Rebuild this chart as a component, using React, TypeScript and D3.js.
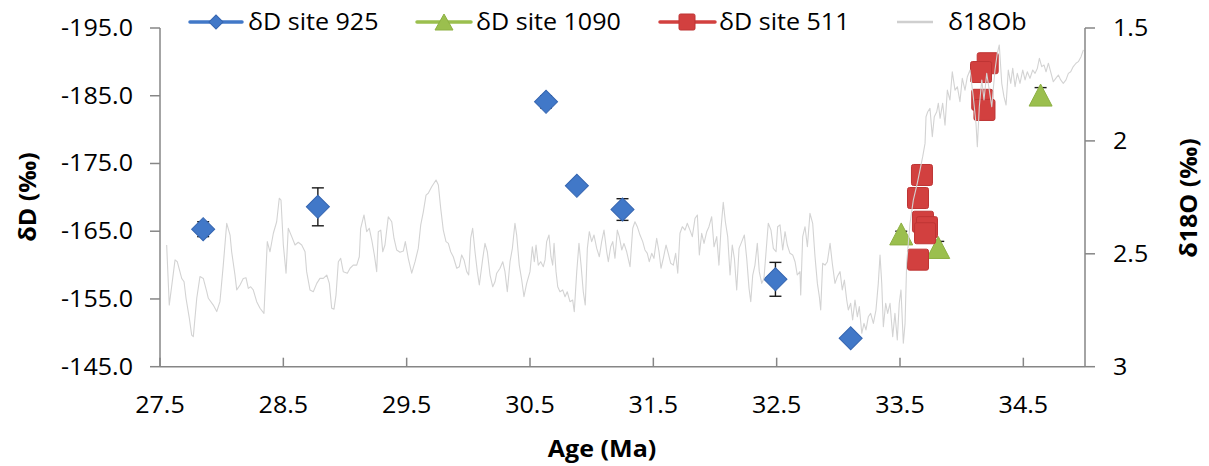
import React from "react";
import * as d3 from "d3";

const W = 1209;
const H = 466;
const FONT = "'Open Sans', 'Noto Sans', sans-serif";
const SX = 1.09;

// Axis ticks
const ageTicks = [27.5, 28.5, 29.5, 30.5, 31.5, 32.5, 33.5, 34.5];
const ageTickLabels = ["27.5", "28.5", "29.5", "30.5", "31.5", "32.5", "33.5", "34.5"];
const dDTicks = [-195, -185, -175, -165, -155, -145];
const dDTickLabels = ["-195.0", "-185.0", "-175.0", "-165.0", "-155.0", "-145.0"];
const o18Ticks = [1.5, 2, 2.5, 3];
const o18TickLabels = ["1.5", "2", "2.5", "3"];

// δD site 925
const site925Age = [27.85, 28.78, 30.63, 30.88, 31.25, 32.49, 33.1];
const site925dD = [-165.3, -168.6, -184.1, -171.7, -168.2, -157.9, -149.2];
const site925Err = [1.1, 2.8, 0.9, 0.3, 1.6, 2.5, 0.6];

// δD site 1090
const site1090Age = [33.51, 33.81, 34.64];
const site1090dD = [-164.6, -162.6, -185.1];
const site1090Err = [0.4, 0.9, 1.1];

// δD site 511
const site511Age = [33.678, 33.646, 33.686, 33.719, 33.703, 33.646, 34.211, 34.157, 34.167, 34.185];
const site511dD = [-173.3, -169.9, -166.4, -165.6, -164.7, -160.8, -189.8, -188.5, -184.4, -182.9];

// δ18Ob benthic record
const o18Age = [
  27.554, 27.575, 27.622, 27.64, 27.676, 27.695, 27.711, 27.738, 27.757, 27.77,
  27.798, 27.824, 27.851, 27.879, 27.892, 27.932, 27.96, 27.986, 28.013, 28.041,
  28.068, 28.081, 28.108, 28.122, 28.149, 28.175, 28.197, 28.216, 28.235, 28.256,
  28.284, 28.311, 28.343, 28.37, 28.392, 28.419, 28.446, 28.467, 28.481, 28.5,
  28.522, 28.54, 28.568, 28.595, 28.621, 28.649, 28.676, 28.689, 28.716, 28.743,
  28.771, 28.797, 28.824, 28.852, 28.873, 28.892, 28.911, 28.927, 28.946, 28.965,
  28.986, 29.019, 29.041, 29.067, 29.095, 29.116, 29.127, 29.154, 29.176, 29.197,
  29.217, 29.238, 29.257, 29.27, 29.29, 29.306, 29.324, 29.351, 29.379, 29.397,
  29.419, 29.446, 29.473, 29.489, 29.513, 29.541, 29.568, 29.594, 29.614, 29.635,
  29.657, 29.675, 29.703, 29.738, 29.757, 29.776, 29.797, 29.819, 29.838, 29.857,
  29.878, 29.906, 29.927, 29.946, 29.965, 29.987, 30.003, 30.019, 30.035, 30.054,
  30.073, 30.089, 30.117, 30.135, 30.154, 30.176, 30.198, 30.216, 30.23, 30.257,
  30.279, 30.297, 30.316, 30.338, 30.357, 30.378, 30.392, 30.413, 30.433, 30.451,
  30.473, 30.5, 30.519, 30.535, 30.549, 30.567, 30.587, 30.608, 30.622, 30.635,
  30.654, 30.67, 30.684, 30.695, 30.711, 30.725, 30.743, 30.765, 30.784, 30.802,
  30.824, 30.846, 30.859, 30.879, 30.897, 30.914, 30.932, 30.948, 30.965, 30.981,
  31.0, 31.019, 31.041, 31.062, 31.081, 31.1, 31.122, 31.135, 31.154, 31.171,
  31.189, 31.208, 31.224, 31.244, 31.262, 31.284, 31.311, 31.333, 31.351, 31.37,
  31.392, 31.414, 31.432, 31.451, 31.467, 31.487, 31.505, 31.527, 31.546, 31.562,
  31.581, 31.603, 31.621, 31.641, 31.662, 31.681, 31.698, 31.716, 31.735, 31.757,
  31.775, 31.797, 31.816, 31.838, 31.857, 31.873, 31.892, 31.911, 31.933, 31.951,
  31.973, 31.992, 32.014, 32.032, 32.049, 32.067, 32.084, 32.103, 32.122, 32.14,
  32.157, 32.176, 32.195, 32.217, 32.238, 32.257, 32.276, 32.29, 32.306, 32.324,
  32.343, 32.359, 32.379, 32.397, 32.414, 32.432, 32.454, 32.473, 32.495, 32.508,
  32.527, 32.549, 32.568, 32.586, 32.608, 32.63, 32.649, 32.667, 32.689, 32.695,
  32.711, 32.73, 32.749, 32.77, 32.792, 32.811, 32.83, 32.846, 32.857, 32.873,
  32.892, 32.911, 32.933, 32.951, 32.973, 32.992, 33.014, 33.032, 33.049, 33.068,
  33.081, 33.1, 33.116, 33.135, 33.154, 33.17, 33.19, 33.208, 33.224, 33.243,
  33.262, 33.284, 33.305, 33.324, 33.338, 33.352, 33.365, 33.384, 33.4, 33.419,
  33.441, 33.459, 33.478, 33.494, 33.508, 33.527, 33.541, 33.554, 33.581, 33.608,
  33.64, 33.662, 33.684, 33.703, 33.711, 33.725, 33.743, 33.762, 33.778, 33.798,
  33.811, 33.825, 33.846, 33.865, 33.884, 33.905, 33.924, 33.946, 33.965, 33.986,
  34.005, 34.027, 34.046, 34.068, 34.094, 34.116, 34.127, 34.143, 34.163, 34.181,
  34.203, 34.224, 34.244, 34.27, 34.289, 34.305, 34.325, 34.343, 34.36, 34.378,
  34.398, 34.414, 34.433, 34.451, 34.473, 34.495, 34.514, 34.532, 34.554, 34.576,
  34.595, 34.614, 34.63, 34.649, 34.668, 34.684, 34.703, 34.725, 34.743, 34.763,
  34.784, 34.803, 34.824, 34.846, 34.865, 34.884, 34.905, 34.927, 34.946, 34.968,
  34.987,
];
const o18Val = [
  2.461, 2.727, 2.527, 2.535, 2.609, 2.624, 2.697, 2.786, 2.86, 2.867,
  2.697, 2.601, 2.609, 2.668, 2.697, 2.727, 2.756, 2.712, 2.55, 2.365,
  2.417, 2.491, 2.594, 2.66, 2.638, 2.609, 2.606, 2.653, 2.646, 2.66,
  2.712, 2.741, 2.764, 2.446, 2.491, 2.409, 2.358, 2.254, 2.262, 2.461,
  2.586, 2.387, 2.424, 2.461, 2.449, 2.461, 2.491, 2.579, 2.66, 2.668,
  2.631, 2.609, 2.609, 2.594, 2.631, 2.741, 2.745, 2.683, 2.535, 2.52,
  2.579, 2.586, 2.564, 2.55, 2.55, 2.513, 2.387, 2.328, 2.402, 2.387,
  2.439, 2.505, 2.579, 2.402, 2.395, 2.491, 2.461, 2.336, 2.358, 2.431,
  2.483, 2.493, 2.488, 2.446, 2.52, 2.586, 2.535, 2.476, 2.372, 2.314,
  2.24, 2.232, 2.203, 2.173, 2.195, 2.299, 2.395, 2.446, 2.454, 2.491,
  2.513, 2.564, 2.557, 2.505, 2.527, 2.579, 2.594, 2.431, 2.387, 2.491,
  2.579, 2.638, 2.52, 2.454, 2.491, 2.594, 2.646, 2.624, 2.586, 2.564,
  2.535, 2.579, 2.668, 2.535, 2.476, 2.365, 2.417, 2.55, 2.616, 2.69,
  2.631, 2.579, 2.469, 2.535, 2.461, 2.55, 2.535, 2.557, 2.527, 2.446,
  2.417, 2.513, 2.55, 2.454, 2.579, 2.646, 2.668, 2.66, 2.69, 2.668,
  2.712, 2.705, 2.756, 2.579, 2.454, 2.55, 2.668, 2.727, 2.476, 2.402,
  2.446, 2.417, 2.476, 2.513, 2.446, 2.395, 2.491, 2.535, 2.469, 2.446,
  2.52, 2.395, 2.424, 2.483, 2.454, 2.491, 2.557, 2.387, 2.358, 2.38,
  2.417, 2.446, 2.483, 2.498, 2.535, 2.498, 2.52, 2.431, 2.491, 2.564,
  2.52, 2.461, 2.498, 2.542, 2.55, 2.498, 2.586, 2.409, 2.38, 2.395,
  2.365, 2.395, 2.424, 2.343, 2.328, 2.505, 2.409, 2.454, 2.402, 2.38,
  2.336, 2.469, 2.424, 2.55, 2.387, 2.272, 2.358, 2.424, 2.594, 2.461,
  2.52, 2.66, 2.476, 2.446, 2.417, 2.52, 2.653, 2.712, 2.594, 2.55,
  2.454, 2.579, 2.631, 2.609, 2.491, 2.365, 2.395, 2.476, 2.491, 2.38,
  2.372, 2.483, 2.402, 2.461, 2.498, 2.505, 2.535, 2.594, 2.579, 2.682,
  2.424, 2.38, 2.469, 2.321, 2.365, 2.513, 2.631, 2.69, 2.749, 2.542,
  2.55, 2.535, 2.454, 2.542, 2.631, 2.601, 2.579, 2.66, 2.616, 2.705,
  2.749, 2.719, 2.793, 2.705, 2.779, 2.734, 2.852, 2.808, 2.837, 2.779,
  2.764, 2.808, 2.749, 2.631, 2.505, 2.631, 2.823, 2.719, 2.764, 2.719,
  2.867, 2.764, 2.882, 2.719, 2.66, 2.896, 2.808, 2.542, 2.365, 2.262,
  2.188, 2.129, 2.07, 2.011, 1.893, 1.871, 1.856, 1.981, 1.893, 1.871,
  1.833, 1.9, 1.833, 1.93, 1.775, 1.819, 1.694, 1.775, 1.76, 1.826,
  1.723, 1.775, 1.716, 1.686, 1.804, 1.922, 2.026, 1.849, 1.73, 1.819,
  1.701, 1.775, 1.849, 1.686, 1.612, 1.575, 1.745, 1.804, 1.841, 1.686,
  1.745, 1.678, 1.76, 1.701, 1.745, 1.686, 1.73, 1.694, 1.723, 1.686,
  1.701, 1.678, 1.634, 1.671, 1.664, 1.694, 1.656, 1.701, 1.738, 1.723,
  1.708, 1.73, 1.745, 1.73, 1.701, 1.694, 1.671, 1.656, 1.649, 1.627,
  1.597,
];

const BLUE = "#4178C8";
const BLUE_EDGE = "#3565B0";
const GREEN = "#9BBF4E";
const GREEN_EDGE = "#8DB043";
const RED = "#D2403F";
const RED_EDGE = "#BE3434";
const GRAY_LINE = "#D3D3D3";
const AXIS = "#868686";

type TProps = {
  x: number;
  y: number;
  rot?: number;
  anchor?: "start" | "middle" | "end";
  size?: number;
  weight?: number | string;
  children: React.ReactNode;
};

function T({ x, y, rot = 0, anchor = "start", size = 23, weight = 400, children }: TProps) {
  return (
    <text
      transform={`translate(${x},${y}) rotate(${rot}) scale(${SX},1)`}
      textAnchor={anchor}
      fontFamily={FONT}
      fontSize={size}
      fontWeight={weight}
      fill="#000"
    >
      {children}
    </text>
  );
}

const diamond = (side: number) => d3.symbol(d3.symbolSquare, side * side)() as string;
const triangle = (w: number, h: number) => {
  const p = d3.path();
  p.moveTo(0, -h / 2);
  p.lineTo(w / 2, h / 2);
  p.lineTo(-w / 2, h / 2);
  p.closePath();
  return p.toString();
};

export default function App() {
  const left = 160;
  const right = 1085;
  const top = 28;
  const bottom = 366.7;

  const x = d3.scaleLinear().domain([27.5, 35]).range([left, right]);
  const yL = d3.scaleLinear().domain([-145, -195]).range([bottom, top]);
  const yR = d3.scaleLinear().domain([3, 1.5]).range([bottom, top]);

  const line = d3
    .line<number>()
    .x((_, i) => x(o18Age[i]))
    .y((v) => yR(v));

  const errBar = (ax: number, v: number, e: number, key: string) => {
    const cx = x(ax);
    const y1 = yL(v - e);
    const y2 = yL(v + e);
    return (
      <g key={key} stroke="#1a1a1a" strokeWidth={1.4}>
        <line x1={cx} x2={cx} y1={y1} y2={y2} />
        <line x1={cx - 6} x2={cx + 6} y1={y1} y2={y1} />
        <line x1={cx - 6} x2={cx + 6} y1={y2} y2={y2} />
      </g>
    );
  };

  const dPath = diamond(16.3);
  const tPath = triangle(23, 22);
  const legendY = 22;

  return (
    <svg
      width={W}
      height={H}
      viewBox={`0 0 ${W} ${H}`}
      style={{ position: "absolute", left: 0, top: 0, background: "#fff" }}
    >
      <rect x={0} y={0} width={W} height={H} fill="#fff" />

      {/* error bars */}
      {site925Age.map((a, i) => errBar(a, site925dD[i], site925Err[i], `e925-${i}`))}
      {site1090Age.map((a, i) => errBar(a, site1090dD[i], site1090Err[i], `e1090-${i}`))}

      {/* site 925 diamonds */}
      {site925Age.map((a, i) => (
        <path
          key={`d${i}`}
          d={dPath}
          transform={`translate(${x(a)},${yL(site925dD[i])}) rotate(45)`}
          fill={BLUE}
          stroke={BLUE_EDGE}
          strokeWidth={1}
        />
      ))}

      {/* site 1090 triangles */}
      {site1090Age.map((a, i) => (
        <path
          key={`t${i}`}
          d={tPath}
          transform={`translate(${x(a)},${yL(site1090dD[i])})`}
          fill={GREEN}
          stroke={GREEN_EDGE}
          strokeWidth={1}
        />
      ))}

      {/* site 511 squares */}
      {site511Age.map((a, i) => (
        <rect
          key={`s${i}`}
          x={x(a) - 10.5}
          y={yL(site511dD[i]) - 10.5}
          width={21}
          height={21}
          rx={2}
          fill={RED}
          stroke={RED_EDGE}
          strokeWidth={1}
        />
      ))}

      {/* δ18Ob line */}
      <path d={line(o18Val) as string} fill="none" stroke={GRAY_LINE} strokeWidth={1.1} strokeLinejoin="round" />

      {/* axes */}
      <g stroke={AXIS} strokeWidth={1.5} fill="none">
        <line x1={left} x2={left} y1={top} y2={bottom} />
        <line x1={right} x2={right} y1={top} y2={bottom} />
        <line x1={left} x2={right} y1={bottom} y2={bottom} />
        {dDTicks.map((t) => (
          <line key={`lt${t}`} x1={left - 10} x2={left} y1={yL(t)} y2={yL(t)} />
        ))}
        {o18Ticks.map((t) => (
          <line key={`rt${t}`} x1={right} x2={right + 10} y1={yR(t)} y2={yR(t)} />
        ))}
        {ageTicks.map((t) => (
          <line key={`bt${t}`} x1={x(t)} x2={x(t)} y1={bottom - 9} y2={bottom} />
        ))}
      </g>

      {/* tick labels */}
      {dDTicks.map((t, i) => (
        <T key={`ll${t}`} x={133} y={yL(t) + 8} anchor="end">
          {dDTickLabels[i]}
        </T>
      ))}
      {o18Ticks.map((t, i) => (
        <T key={`rl${t}`} x={1113} y={yR(t) + 8} anchor="start">
          {o18TickLabels[i]}
        </T>
      ))}
      {ageTicks.map((t, i) => (
        <T key={`bl${t}`} x={x(t)} y={413} anchor="middle">
          {ageTickLabels[i]}
        </T>
      ))}

      {/* axis titles */}
      <T x={602} y={457} anchor="middle" weight={700}>
        Age (Ma)
      </T>
      <T x={36} y={197} rot={-90} anchor="middle" weight={700}>
        δD (‰)
      </T>
      <T x={1197} y={198} rot={-90} anchor="middle" weight={700}>
        δ18O (‰)
      </T>

      {/* legend */}
      <g>
        <line x1={190} x2={242} y1={legendY} y2={legendY} stroke={BLUE} strokeWidth={3.5} strokeLinecap="round" />
        <path d={diamond(10)} transform={`translate(216,${legendY}) rotate(45)`} fill={BLUE} stroke={BLUE_EDGE} />
        <T x={248} y={30}>δD site 925</T>

        <line x1={417} x2={471} y1={legendY} y2={legendY} stroke={GREEN} strokeWidth={3.5} strokeLinecap="round" />
        <path d={triangle(18, 16)} transform={`translate(444,${legendY})`} fill={GREEN} stroke={GREEN_EDGE} />
        <T x={476} y={30}>δD site 1090</T>

        <line x1={660} x2={715} y1={legendY} y2={legendY} stroke={RED} strokeWidth={3.5} strokeLinecap="round" />
        <rect x={679} y={legendY - 8} width={16} height={16} rx={1.5} fill={RED} stroke={RED_EDGE} />
        <T x={719} y={30}>δD site 511</T>

        <line x1={897} x2={933} y1={legendY} y2={legendY} stroke="#CFCFCF" strokeWidth={2.5} />
        <T x={948} y={30}>δ18Ob</T>
      </g>
    </svg>
  );
}
